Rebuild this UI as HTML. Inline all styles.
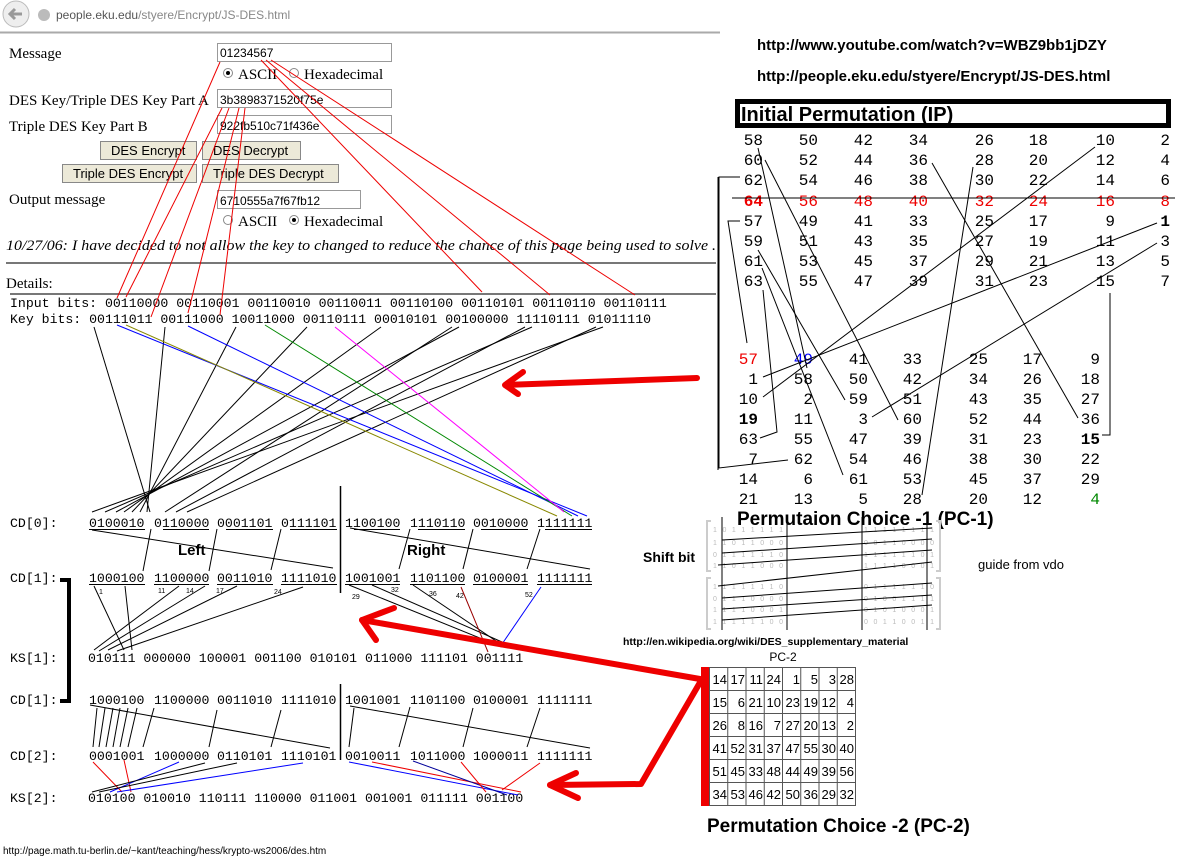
<!DOCTYPE html>
<html><head><meta charset="utf-8"><style>
html,body{margin:0;padding:0;background:#fff;}
svg{display:block;}
.m{font-family:"Liberation Mono",monospace;font-size:13.2px;fill:#000;}
.s{font-family:"Liberation Serif",serif;font-size:15px;fill:#000;}
.a{font-family:"Liberation Sans",sans-serif;}
.ip{font-family:"Liberation Mono",monospace;font-size:16px;text-anchor:end;}
.pc{font-family:"Liberation Sans",sans-serif;font-size:13px;text-anchor:end;}
</style></head><body>
<svg width="1183" height="863" viewBox="0 0 1183 863" xmlns="http://www.w3.org/2000/svg">
<rect width="1183" height="863" fill="#fff"/>
<rect x="0" y="0" width="720" height="32" fill="#fff"/>
<line x1="0" y1="32.5" x2="720" y2="32.5" stroke="#aaa" stroke-width="2"/>
<circle cx="16" cy="14" r="13" fill="#eee" stroke="#bbb"/>
<path d="M22 14 H11 M15 9 L10 14 L15 19" stroke="#999" stroke-width="3" fill="none"/>
<circle cx="44" cy="15" r="6" fill="#bbb"/>
<text x="56" y="19" class="a" font-size="12" fill="#555">people.eku.edu<tspan fill="#888">/styere/Encrypt/JS-DES.html</tspan></text>

<text x="9" y="58" class="s">Message</text>
<rect x="217.5" y="43.5" width="174" height="18" fill="#fff" stroke="#999"/>
<text x="220" y="57" class="a" font-size="12">01234567</text>
<circle cx="228" cy="73" r="4.5" fill="#fff" stroke="#888"/><circle cx="228" cy="73" r="2" fill="#000"/>
<text x="238" y="79" class="s">ASCII</text>
<circle cx="294" cy="73" r="4.5" fill="#fff" stroke="#888"/>
<text x="304" y="79" class="s">Hexadecimal</text>
<text x="9" y="105" class="s">DES Key/Triple DES Key Part A</text>
<rect x="217.5" y="89.5" width="174" height="18" fill="#fff" stroke="#999"/>
<text x="220" y="104" class="a" font-size="12">3b3898371520f75e</text>
<text x="9" y="131" class="s">Triple DES Key Part B</text>
<rect x="217.5" y="115.5" width="174" height="18" fill="#fff" stroke="#999"/>
<text x="220" y="130" class="a" font-size="12">922fb510c71f436e</text>
<g class="a" font-size="13">
<rect x="100.5" y="141.5" width="96" height="18" fill="#ece9d8" stroke="#888"/><text x="111" y="155">DES Encrypt</text>
<rect x="202.5" y="141.5" width="98" height="18" fill="#ece9d8" stroke="#888"/><text x="213" y="155">DES Decrypt</text>
<rect x="62.5" y="164.5" width="134" height="18" fill="#ece9d8" stroke="#888"/><text x="73" y="178">Triple DES Encrypt</text>
<rect x="202.5" y="164.5" width="136" height="18" fill="#ece9d8" stroke="#888"/><text x="213" y="178">Triple DES Decrypt</text>
</g>
<text x="9" y="204" class="s">Output message</text>
<rect x="217.5" y="190.5" width="143" height="18" fill="#fff" stroke="#999"/>
<text x="220" y="205" class="a" font-size="12">6710555a7f67fb12</text>
<circle cx="228" cy="220" r="4.5" fill="#fff" stroke="#888"/>
<text x="238" y="226" class="s">ASCII</text>
<circle cx="294" cy="220" r="4.5" fill="#fff" stroke="#888"/><circle cx="294" cy="220" r="2" fill="#000"/>
<text x="304" y="226" class="s">Hexadecimal</text>
<text x="6" y="250" class="s" font-style="italic" textLength="710" lengthAdjust="spacingAndGlyphs">10/27/06: I have decided to not allow the key to changed to reduce the chance of this page being used to solve .</text>
<line x1="6" y1="263" x2="716" y2="263" stroke="#777" stroke-width="2"/>
<text x="6" y="288" class="s">Details:</text>
<line x1="10" y1="294" x2="716" y2="294" stroke="#777" stroke-width="2"/>
<line x1="718" y1="177" x2="718" y2="470" stroke="#000"/>

<text x="10" y="307" class="m" xml:space="preserve">Input bits: 00110000 00110001 00110010 00110011 00110100 00110101 00110110 00110111</text>
<text x="10" y="323" class="m" xml:space="preserve">Key bits: 00111011 00111000 10011000 00110111 00010101 00100000 11110111 01011110</text>

<g stroke="#e00" stroke-width="1" fill="none">
<line x1="220" y1="62" x2="117" y2="298"/>
<line x1="261" y1="60" x2="482" y2="292"/>
<line x1="266" y1="60" x2="550" y2="295"/>
<line x1="271" y1="60" x2="635" y2="295"/>
<line x1="222" y1="108" x2="126" y2="297"/>
<line x1="229" y1="108" x2="151" y2="317"/>
<line x1="239" y1="108" x2="188" y2="313"/>
<line x1="245" y1="108" x2="220" y2="315"/>
</g>

<g stroke="#000" stroke-width="1">
<line x1="94" y1="327" x2="150" y2="512"/>
<line x1="165" y1="327" x2="147" y2="512"/>
<line x1="236" y1="327" x2="140" y2="512"/>
<line x1="307" y1="327" x2="132" y2="512"/>
<line x1="381" y1="327" x2="124" y2="512"/>
<line x1="459" y1="327" x2="116" y2="512"/>
<line x1="532" y1="327" x2="105" y2="512"/>
<line x1="603" y1="327" x2="92" y2="512"/>
<line x1="452" y1="327" x2="165" y2="512"/>
<line x1="525" y1="327" x2="176" y2="512"/>
<line x1="596" y1="327" x2="187" y2="512"/>
</g>
<line x1="117" y1="325" x2="587" y2="516" stroke="#00f"/>
<line x1="126" y1="325" x2="557" y2="516" stroke="#880"/>
<line x1="188" y1="326" x2="578" y2="516" stroke="#00f"/>
<line x1="265" y1="325" x2="572" y2="516" stroke="#080"/>
<line x1="335" y1="327" x2="564" y2="512" stroke="#f0f"/>

<line x1="340.5" y1="486" x2="340.5" y2="593" stroke="#000" stroke-width="1.5"/>
<line x1="340.5" y1="684" x2="340.5" y2="760" stroke="#000" stroke-width="1.5"/>

<g class="m">
<text x="10" y="527">CD[0]:</text>
<text x="10" y="582">CD[1]:</text>
<text x="10" y="662">KS[1]:</text>
<text x="10" y="704">CD[1]:</text>
<text x="10" y="760">CD[2]:</text>
<text x="10" y="802">KS[2]:</text>
<text x="89" y="527">0100010</text><text x="154" y="527">0110000</text><text x="217" y="527">0001101</text><text x="281" y="527">0111101</text>
<text x="345" y="527">1100100</text><text x="410" y="527">1110110</text><text x="473" y="527">0010000</text><text x="537" y="527">1111111</text>
<text x="89" y="582">1000100</text><text x="154" y="582">1100000</text><text x="217" y="582">0011010</text><text x="281" y="582">1111010</text>
<text x="345" y="582">1001001</text><text x="410" y="582">1101100</text><text x="473" y="582">0100001</text><text x="537" y="582">1111111</text>
<text x="89" y="704">1000100</text><text x="154" y="704">1100000</text><text x="217" y="704">0011010</text><text x="281" y="704">1111010</text>
<text x="345" y="704">1001001</text><text x="410" y="704">1101100</text><text x="473" y="704">0100001</text><text x="537" y="704">1111111</text>
<text x="89" y="760">0001001</text><text x="154" y="760">1000000</text><text x="217" y="760">0110101</text><text x="281" y="760">1110101</text>
<text x="345" y="760">0010011</text><text x="410" y="760">1011000</text><text x="473" y="760">1000011</text><text x="537" y="760">1111111</text>
<text x="88" y="662" xml:space="preserve">010111 000000 100001 001100 010101 011000 111101 001111</text>
<text x="88" y="802" xml:space="preserve">010100 010010 110111 110000 011001 001001 011111 001100</text>
</g>
<g stroke="#000">
<line x1="89" y1="529.5" x2="145" y2="529.5"/><line x1="163" y1="529.5" x2="209" y2="529.5"/><line x1="226" y1="529.5" x2="273" y2="529.5"/><line x1="290" y1="529.5" x2="337" y2="529.5"/>
<line x1="354" y1="529.5" x2="400" y2="529.5"/><line x1="418" y1="529.5" x2="465" y2="529.5"/><line x1="481" y1="529.5" x2="528" y2="529.5"/><line x1="545" y1="529.5" x2="592" y2="529.5"/>
<line x1="89" y1="584.5" x2="145" y2="584.5"/><line x1="154" y1="584.5" x2="209" y2="584.5"/><line x1="217" y1="584.5" x2="273" y2="584.5"/><line x1="281" y1="584.5" x2="337" y2="584.5"/>
<line x1="345" y1="584.5" x2="400" y2="584.5"/><line x1="410" y1="584.5" x2="465" y2="584.5"/><line x1="473" y1="584.5" x2="528" y2="584.5"/><line x1="537" y1="584.5" x2="592" y2="584.5"/>
</g>
<text x="178" y="555" class="a" font-size="15" font-weight="bold">Left</text>
<text x="407" y="555" class="a" font-size="15" font-weight="bold">Right</text>

<g stroke="#000">
<line x1="92" y1="530" x2="333" y2="568"/>
<line x1="350" y1="528" x2="590" y2="569"/>
<line x1="151" y1="529" x2="143" y2="571"/>
<line x1="217" y1="529" x2="209" y2="571"/>
<line x1="281" y1="529" x2="271" y2="570"/>
<line x1="410" y1="529" x2="399" y2="569"/>
<line x1="473" y1="529" x2="463" y2="569"/>
<line x1="540" y1="529" x2="527" y2="569"/>
</g>
<path d="M60 580 H69 V701 H60" stroke="#000" stroke-width="4" fill="none"/>
<g class="a" font-size="7">
<text x="99" y="594">1</text><text x="158" y="593">11</text><text x="186" y="593">14</text><text x="216" y="593">17</text><text x="274" y="594">24</text>
<text x="352" y="599">29</text><text x="391" y="592">32</text><text x="429" y="596">36</text><text x="456" y="598">42</text><text x="525" y="597">52</text>
</g>
<g stroke="#000">
<line x1="94" y1="586" x2="124" y2="650"/><line x1="125" y1="586" x2="132" y2="650"/>
<line x1="179" y1="586" x2="94" y2="650"/><line x1="205" y1="586" x2="99" y2="651"/>
<line x1="237" y1="586" x2="108" y2="650"/><line x1="303" y1="587" x2="117" y2="651"/>
<line x1="349" y1="585" x2="502" y2="647"/><line x1="372" y1="585" x2="509" y2="645"/>
<line x1="413" y1="585" x2="505" y2="647"/>
</g>
<line x1="461" y1="587" x2="488" y2="652" stroke="#900"/>
<line x1="541" y1="587" x2="500" y2="647" stroke="#00f"/>
<g stroke="#000">
<line x1="97" y1="708" x2="93" y2="747"/><line x1="105" y1="708" x2="99" y2="747"/><line x1="113" y1="708" x2="106" y2="747"/>
<line x1="120" y1="708" x2="113" y2="747"/><line x1="128" y1="708" x2="120" y2="747"/><line x1="137" y1="708" x2="128" y2="747"/>
<line x1="154" y1="708" x2="143" y2="747"/>
<line x1="90" y1="705" x2="330" y2="748"/><line x1="217" y1="710" x2="209" y2="747"/><line x1="281" y1="710" x2="271" y2="747"/>
<line x1="354" y1="708" x2="349" y2="747"/><line x1="350" y1="706" x2="590" y2="748"/>
<line x1="410" y1="707" x2="399" y2="747"/><line x1="473" y1="708" x2="463" y2="747"/><line x1="540" y1="708" x2="527" y2="747"/>
</g>
<line x1="93" y1="762" x2="122" y2="792" stroke="#e00"/>
<line x1="124" y1="760" x2="131" y2="792" stroke="#e00"/>
<line x1="179" y1="762" x2="110" y2="792" stroke="#00f"/>
<line x1="205" y1="763" x2="92" y2="792" stroke="#000"/>
<line x1="237" y1="763" x2="99" y2="792" stroke="#000"/>
<line x1="303" y1="763" x2="117" y2="792" stroke="#00f"/>
<line x1="349" y1="762" x2="518" y2="795" stroke="#00f"/>
<line x1="372" y1="762" x2="521" y2="792" stroke="#e00"/>
<line x1="413" y1="761" x2="507" y2="795" stroke="#009"/>
<line x1="461" y1="762" x2="486" y2="792" stroke="#e00"/>
<line x1="540" y1="763" x2="502" y2="790" stroke="#e00"/>

<text x="3" y="854" class="a" font-size="10">http://page.math.tu-berlin.de/~kant/teaching/hess/krypto-ws2006/des.htm</text>

<text x="757" y="50" class="a" font-size="15" font-weight="bold">http://www.youtube.com/watch?v=WBZ9bb1jDZY</text>
<text x="757" y="81" class="a" font-size="15" font-weight="bold">http://people.eku.edu/styere/Encrypt/JS-DES.html</text>
<rect x="737.5" y="101.5" width="431" height="24" fill="#fff" stroke="#000" stroke-width="5"/>
<text x="741" y="121" class="a" font-size="20" font-weight="bold">Initial Permutation (IP)</text>
<g class="ip">
<text x="763" y="145">58</text><text x="818" y="145">50</text><text x="873" y="145">42</text><text x="928" y="145">34</text><text x="994" y="145">26</text><text x="1048" y="145">18</text><text x="1115" y="145">10</text><text x="1170" y="145">2</text>
<text x="763" y="165">60</text><text x="818" y="165">52</text><text x="873" y="165">44</text><text x="928" y="165">36</text><text x="994" y="165">28</text><text x="1048" y="165">20</text><text x="1115" y="165">12</text><text x="1170" y="165">4</text>
<text x="763" y="185">62</text><text x="818" y="185">54</text><text x="873" y="185">46</text><text x="928" y="185">38</text><text x="994" y="185">30</text><text x="1048" y="185">22</text><text x="1115" y="185">14</text><text x="1170" y="185">6</text>
<g fill="#e00"><text x="763" y="206" font-weight="bold">64</text><text x="818" y="206">56</text><text x="873" y="206">48</text><text x="928" y="206">40</text><text x="994" y="206">32</text><text x="1048" y="206">24</text><text x="1115" y="206">16</text><text x="1170" y="206">8</text></g>
<text x="763" y="226">57</text><text x="818" y="226">49</text><text x="873" y="226">41</text><text x="928" y="226">33</text><text x="994" y="226">25</text><text x="1048" y="226">17</text><text x="1115" y="226">9</text><text x="1170" y="226" font-weight="bold">1</text>
<text x="763" y="246">59</text><text x="818" y="246">51</text><text x="873" y="246">43</text><text x="928" y="246">35</text><text x="994" y="246">27</text><text x="1048" y="246">19</text><text x="1115" y="246">11</text><text x="1170" y="246">3</text>
<text x="763" y="266">61</text><text x="818" y="266">53</text><text x="873" y="266">45</text><text x="928" y="266">37</text><text x="994" y="266">29</text><text x="1048" y="266">21</text><text x="1115" y="266">13</text><text x="1170" y="266">5</text>
<text x="763" y="286">63</text><text x="818" y="286">55</text><text x="873" y="286">47</text><text x="928" y="286">39</text><text x="994" y="286">31</text><text x="1048" y="286">23</text><text x="1115" y="286">15</text><text x="1170" y="286">7</text>

<text x="758" y="364" fill="#e00">57</text><text x="813" y="364" fill="#00f">49</text><text x="868" y="364">41</text><text x="922" y="364">33</text><text x="988" y="364">25</text><text x="1042" y="364">17</text><text x="1100" y="364">9</text>
<text x="758" y="384">1</text><text x="813" y="384">58</text><text x="868" y="384">50</text><text x="922" y="384">42</text><text x="988" y="384">34</text><text x="1042" y="384">26</text><text x="1100" y="384">18</text>
<text x="758" y="404">10</text><text x="813" y="404">2</text><text x="868" y="404">59</text><text x="922" y="404">51</text><text x="988" y="404">43</text><text x="1042" y="404">35</text><text x="1100" y="404">27</text>
<text x="758" y="424" font-weight="bold">19</text><text x="813" y="424">11</text><text x="868" y="424">3</text><text x="922" y="424">60</text><text x="988" y="424">52</text><text x="1042" y="424">44</text><text x="1100" y="424">36</text>
<text x="758" y="444">63</text><text x="813" y="444">55</text><text x="868" y="444">47</text><text x="922" y="444">39</text><text x="988" y="444">31</text><text x="1042" y="444">23</text><text x="1100" y="444" font-weight="bold">15</text>
<text x="758" y="464">7</text><text x="813" y="464">62</text><text x="868" y="464">54</text><text x="922" y="464">46</text><text x="988" y="464">38</text><text x="1042" y="464">30</text><text x="1100" y="464">22</text>
<text x="758" y="484">14</text><text x="813" y="484">6</text><text x="868" y="484">61</text><text x="922" y="484">53</text><text x="988" y="484">45</text><text x="1042" y="484">37</text><text x="1100" y="484">29</text>
<text x="758" y="504">21</text><text x="813" y="504">13</text><text x="868" y="504">5</text><text x="922" y="504">28</text><text x="988" y="504">20</text><text x="1042" y="504">12</text><text x="1100" y="504" fill="#080">4</text>
</g>
<g stroke="#000" fill="none">
<line x1="732" y1="198" x2="1175" y2="198"/>
<line x1="758" y1="148" x2="807" y2="368"/>
<line x1="765" y1="160" x2="898" y2="420"/>
<polyline points="740,177 719,177 719,468 788,460"/>
<polyline points="740,221 728,221 747,343"/>
<line x1="758" y1="250" x2="845" y2="400"/>
<line x1="762" y1="268" x2="843" y2="475"/>
<polyline points="763,290 777,432 760,438"/>
<line x1="932" y1="163" x2="1078" y2="418"/>
<line x1="973" y1="167" x2="922" y2="495"/>
<line x1="1095" y1="147" x2="763" y2="397"/>
<line x1="1157" y1="223" x2="763" y2="377"/>
<line x1="1157" y1="243" x2="872" y2="417"/>
<polyline points="1110,293 1110,435 1102,435"/>
</g>
<text x="737" y="525" class="a" font-size="19" font-weight="bold">Permutaion Choice -1 (PC-1)</text>

<text x="643" y="562" class="a" font-size="14" font-weight="bold">Shift bit</text>
<text x="978" y="569" class="a" font-size="13">guide from vdo</text>
<g stroke="#ccc" fill="none" stroke-width="2">
<path d="M711 521 H707 V571 H711"/><path d="M711 578 H707 V629 H711"/>
<path d="M936 521 H940 V571 H936"/><path d="M936 578 H940 V629 H936"/>
</g>
<g class="a" font-size="7" fill="#bbb">
<text x="713" y="532" textLength="70">1 0 1 1 1 1 1 1</text><text x="713" y="545" textLength="70">1 1 0 1 1 0 0 0</text><text x="713" y="557" textLength="70">0 1 1 1 1 1 1 0</text><text x="713" y="568" textLength="70">1 1 0 1 1 0 0 0</text>
<text x="713" y="589" textLength="70">1 1 1 1 1 1 1 0</text><text x="713" y="601" textLength="70">0 1 1 1 0 0 0 0</text><text x="713" y="612" textLength="70">1 1 1 1 0 0 0 1</text><text x="713" y="624" textLength="70">1 1 1 1 1 1 0 0</text>
<text x="864" y="532" textLength="70">1 1 1 1 1 1 1 1</text><text x="864" y="545" textLength="70">0 0 1 1 0 0 0 0</text><text x="864" y="557" textLength="70">1 1 1 1 1 1 0 1</text><text x="864" y="568" textLength="70">1 1 1 1 0 0 0 1</text>
<text x="864" y="589" textLength="70">0 1 1 1 1 1 1 0</text><text x="864" y="601" textLength="70">0 1 0 0 1 1 1 1</text><text x="864" y="612" textLength="70">0 1 0 1 0 0 0 1</text><text x="864" y="624" textLength="70">0 0 1 1 0 0 1 1</text>
</g>
<g stroke="#000">
<line x1="722" y1="517" x2="722" y2="630"/><line x1="787" y1="517" x2="787" y2="630"/>
<line x1="862" y1="517" x2="862" y2="630"/><line x1="927" y1="517" x2="927" y2="630"/>
<line x1="722" y1="540" x2="932" y2="528"/><line x1="722" y1="553" x2="932" y2="539"/>
<line x1="718" y1="565" x2="932" y2="550"/><line x1="718" y1="586" x2="932" y2="562"/>
<line x1="722" y1="598" x2="932" y2="583"/><line x1="722" y1="609" x2="932" y2="595"/>
<line x1="722" y1="620" x2="932" y2="605"/>
</g>
<text x="623" y="645" class="a" font-size="10.5" font-weight="bold">http://en.wikipedia.org/wiki/DES_supplementary_material</text>
<text x="783" y="661" class="a" font-size="12" text-anchor="middle">PC-2</text>

<rect x="701" y="667" width="8" height="139" fill="#e00"/>
<g stroke="#555" fill="none">
<rect x="709.5" y="667.5" width="146" height="138"/>
<line x1="727.75" y1="667" x2="727.75" y2="806"/><line x1="746" y1="667" x2="746" y2="806"/><line x1="764.25" y1="667" x2="764.25" y2="806"/><line x1="782.5" y1="667" x2="782.5" y2="806"/><line x1="800.75" y1="667" x2="800.75" y2="806"/><line x1="819" y1="667" x2="819" y2="806"/><line x1="837.25" y1="667" x2="837.25" y2="806"/>
<line x1="709" y1="690.5" x2="856" y2="690.5"/><line x1="709" y1="713.5" x2="856" y2="713.5"/><line x1="709" y1="736.5" x2="856" y2="736.5"/><line x1="709" y1="759.5" x2="856" y2="759.5"/><line x1="709" y1="782.5" x2="856" y2="782.5"/>
</g>
<g class="pc">
<text x="727" y="684">14</text><text x="745" y="684">17</text><text x="763" y="684">11</text><text x="781" y="684">24</text><text x="800" y="684">1</text><text x="818" y="684">5</text><text x="836" y="684">3</text><text x="854" y="684">28</text>
<text x="727" y="707">15</text><text x="745" y="707">6</text><text x="763" y="707">21</text><text x="781" y="707">10</text><text x="800" y="707">23</text><text x="818" y="707">19</text><text x="836" y="707">12</text><text x="854" y="707">4</text>
<text x="727" y="730">26</text><text x="745" y="730">8</text><text x="763" y="730">16</text><text x="781" y="730">7</text><text x="800" y="730">27</text><text x="818" y="730">20</text><text x="836" y="730">13</text><text x="854" y="730">2</text>
<text x="727" y="753">41</text><text x="745" y="753">52</text><text x="763" y="753">31</text><text x="781" y="753">37</text><text x="800" y="753">47</text><text x="818" y="753">55</text><text x="836" y="753">30</text><text x="854" y="753">40</text>
<text x="727" y="776">51</text><text x="745" y="776">45</text><text x="763" y="776">33</text><text x="781" y="776">48</text><text x="800" y="776">44</text><text x="818" y="776">49</text><text x="836" y="776">39</text><text x="854" y="776">56</text>
<text x="727" y="799">34</text><text x="745" y="799">53</text><text x="763" y="799">46</text><text x="781" y="799">42</text><text x="800" y="799">50</text><text x="818" y="799">36</text><text x="836" y="799">29</text><text x="854" y="799">32</text>
</g>
<text x="707" y="832" class="a" font-size="19" font-weight="bold">Permutation Choice -2 (PC-2)</text>

<g stroke="#e00" stroke-width="6" fill="none" stroke-linecap="round" stroke-linejoin="round">
<line x1="697" y1="378" x2="506" y2="385"/>
<polyline points="523,372 505,385 518,394"/>
<line x1="700" y1="679" x2="362" y2="620"/>
<polyline points="394,608 362,620 376,640"/>
<polyline points="702,679 641,784 550,785"/>
<polyline points="576,773 550,785 578,798"/>
</g>
</svg>
</body></html>
